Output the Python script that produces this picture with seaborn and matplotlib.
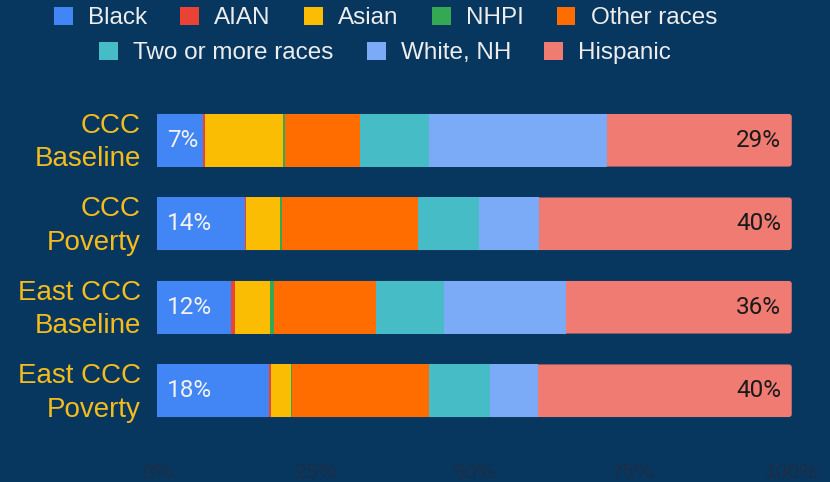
import matplotlib
matplotlib.use("Agg")
import matplotlib.pyplot as plt
import matplotlib.transforms as mtransforms
from matplotlib.patches import Patch, FancyBboxPatch
from matplotlib.ticker import FuncFormatter
import seaborn as sns
import pandas as pd
import numpy as np

# ---- data ----
groups = ["CCC\nBaseline", "CCC\nPoverty", "East CCC\nBaseline", "East CCC\nPoverty"]
races = ["Black", "AIAN", "Asian", "NHPI", "Other races",
         "Two or more races", "White, NH", "Hispanic"]
black = [7.3, 13.8, 11.7, 17.7]
aian = [0.27, 0.27, 0.58, 0.2]
asian = [12.3, 5.36, 5.6, 3.15]
nhpi = [0.27, 0.27, 0.57, 0.2]
other = [11.8, 21.4, 16.1, 21.6]
two_plus = [10.9, 9.7, 10.7, 9.6]
white = [27.95, 9.36, 19.2, 7.6]
hispanic = [29.15, 39.9, 35.6, 39.9]
x_ticks = [0, 25, 50, 75, 100]

colors = ["#4285F4", "#EA4335", "#FBBC04", "#34A853", "#FF6D01",
          "#46BDC6", "#7BAAF7", "#F07B72"]

BG = "#07365F"
GOLD = "#F4BC1C"

series = [black, aian, asian, nhpi, other, two_plus, white, hispanic]
df = pd.DataFrame({r: v for r, v in zip(races, series)}, index=groups)
totals = df.sum(axis=1)
df = df.div(totals, axis=0) * 100
cum = df.cumsum(axis=1)
long = cum.reset_index().melt(id_vars="index", var_name="race", value_name="cum")
long = long.rename(columns={"index": "group"})

sns.set_theme(style="white")
plt.rcParams["font.family"] = ["Liberation Sans", "DejaVu Sans"]

fig = plt.figure(figsize=(8.3, 4.82), dpi=100, facecolor=BG)
ax = fig.add_axes([0.1892, 0.1027, 0.9539 - 0.1892, 0.6929])
ax.set_facecolor(BG)
ax.set_xlim(0, 100)

first = True
for race, col in zip(reversed(races), reversed(colors)):
    sub = long[long["race"] == race]
    sns.barplot(data=sub, x="cum", y="group", order=groups, color=col,
                orient="h", width=0.63, saturation=1, errorbar=None, ax=ax,
                linewidth=0)
    if first:
        # give the full-length (outermost) bars slightly rounded ends
        for p in list(ax.patches):
            x0, y0, w, h = p.get_x(), p.get_y(), p.get_width(), p.get_height()
            fc = p.get_facecolor()
            p.remove()
            ax.add_patch(FancyBboxPatch((x0, y0), w, h,
                                        boxstyle="round,pad=0,rounding_size=0.45",
                                        mutation_aspect=0.076, facecolor=fc,
                                        edgecolor="none", linewidth=0))
        first = False

ax.set_xlim(0, 100)
ax.set_ylim(3.5, -0.5)
ax.set_xlabel("")
ax.set_ylabel("")
ax.set_xticks(x_ticks)
ax.xaxis.set_major_formatter(FuncFormatter(lambda v, p: f"{int(v)}%"))
for s in ax.spines.values():
    s.set_visible(False)
ax.tick_params(axis="x", length=0, pad=22, labelsize=15, labelcolor="#1c2e45")
ax.tick_params(axis="y", length=0, pad=11.5, labelsize=20, labelcolor=GOLD)
shift = mtransforms.ScaledTranslation(0, 4.5 / 100, fig.dpi_scale_trans)
for tk in ax.yaxis.get_major_ticks():
    t = tk.label1
    t.set_horizontalalignment("right")
    t.set_multialignment("right")
    t.set_linespacing(1.38)
    t.set_transform(t.get_transform() + shift)

# value labels
for i, g in enumerate(groups):
    ax.annotate(f"{round(df.loc[g, 'Black'])}%", xy=(0, i), xytext=(7, 0),
                textcoords="offset points", ha="left", va="center",
                color="#F2F2F2", fontsize=17.5, family=["Roboto", "DejaVu Sans"])
    ax.annotate(f"{round(df.loc[g, 'Hispanic'])}%", xy=(100, i), xytext=(-7.7, 0),
                textcoords="offset points", ha="right", va="center",
                color="#1A1A1A", fontsize=17.5, family=["Roboto", "DejaVu Sans"])

handles = [Patch(facecolor=c, edgecolor="none", label=r) for r, c in zip(races, colors)]
leg_kw = dict(frameon=False, fontsize=17.5, handlelength=0.78, handleheight=0.78,
              handletextpad=0.62, columnspacing=1.36, borderpad=0, labelcolor="#EDEDED")
leg1 = fig.legend(handles=handles[:5], loc="center", ncol=5,
                  bbox_to_anchor=(0.4645, 0.963), **leg_kw)
leg2 = fig.legend(handles=handles[5:], loc="center", ncol=3,
                  bbox_to_anchor=(0.464, 0.890), **leg_kw)

fig.savefig("out.png", dpi=100, facecolor=BG)
